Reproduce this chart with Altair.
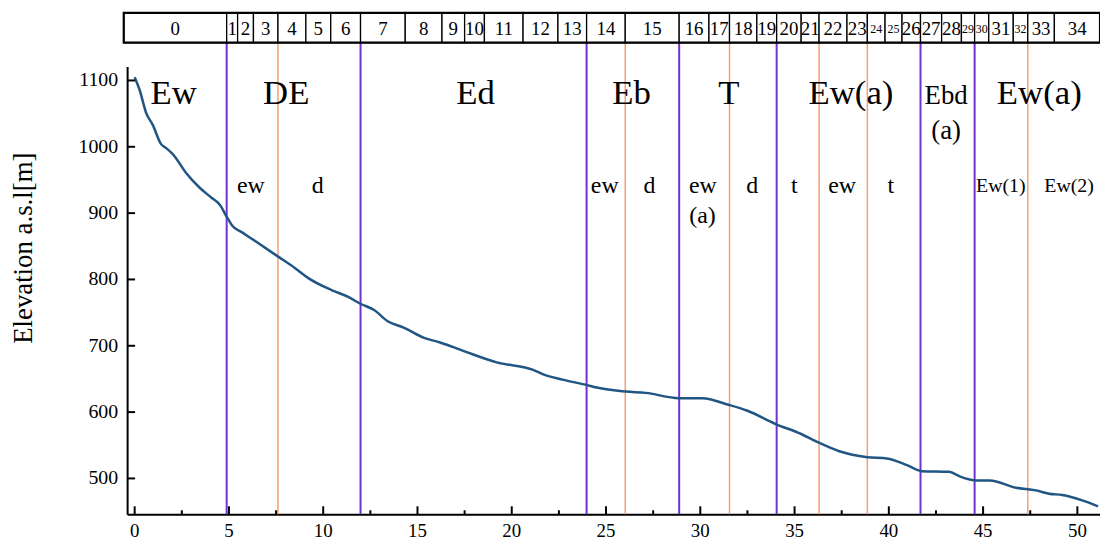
import altair as alt
import pandas as pd

# ---------------- data ----------------
dist_km = [0, 0.26, 0.61, 0.96, 1.4, 1.67, 2.02, 2.72, 3.42, 4.04, 4.56, 4.83, 5.0, 5.18,
           5.7, 6.49, 7.63, 8.51, 9.21, 10.44, 11.3, 12.0, 12.7, 13.42, 14.3, 15.35, 16.2,
           17.46, 19.2, 21.1, 21.67, 22.7, 23.95, 24.5, 26.05, 27.1, 28.86, 30.1, 31.5,
           32.5, 34.0, 35.35, 36.2, 37.37, 38.86, 39.9, 40.96, 41.75, 43.2, 43.77, 44.65,
           45.35, 46.75, 47.8, 48.5, 49.2, 50.26, 51.1]
elev_m = [1105, 1086, 1051, 1033, 1004, 998, 989, 961, 939, 924, 911, 897, 889, 881,
          871, 856, 834, 817, 802, 784, 774, 763, 754, 737, 727, 712, 705,
          692, 675, 664, 657, 649, 641, 637, 631, 629, 621, 621, 611,
          602, 582, 567, 555, 541, 532, 530, 520, 511, 510, 503, 497,
          497, 486, 482, 477, 475, 467, 458]

seg_bounds = [-0.58, 4.88, 5.46, 6.3, 7.6, 9.08, 10.4, 11.98, 14.35, 16.3, 17.5, 18.55,
              20.6, 22.45, 23.97, 26.02, 28.88, 30.46, 31.55, 33.0, 34.05, 35.35, 36.3,
              37.78, 38.86, 39.8, 40.7, 41.68, 42.8, 43.85, 44.55, 45.3, 46.6, 47.37,
              48.78, 51.2]
seg_labels = [str(i) for i in range(35)]
small_seg_labels = ["24", "25", "29", "30", "32"]

purple_x = [4.88, 11.98, 23.97, 28.88, 34.05, 41.68, 44.55]
orange_x = [7.6, 26.02, 31.55, 36.3, 38.86, 47.37]

big_text = ["Ew", "DE", "Ed", "Eb", "T", "Ew(a)", "Ew(a)"]
big_x = [2.07, 8.04, 18.08, 26.35, 31.51, 37.99, 47.98]
ebd_text = ["Ebd"]
ebd_x = [43.04]
ebd_sub_text = ["(a)"]
small_text = ["ew", "d", "ew", "d", "ew", "d", "t", "ew", "t"]
small_x = [6.16, 9.71, 24.93, 27.3, 30.14, 32.75, 34.99, 37.52, 40.1]
sub_text = ["(a)"]
sub_x = [30.12]
ew_num_text = ["Ew(1)", "Ew(2)"]
ew_num_x = [45.94, 49.56]

x_major = [0, 5, 10, 15, 20, 25, 30, 35, 40, 45, 50]
x_minor = [2.5, 7.5, 12.5, 17.5, 22.5, 27.5, 32.5, 37.5, 42.5, 47.5]
y_ticks = [500, 600, 700, 800, 900, 1000, 1100]
y_title = "Elevation a.s.l[m]"

# ---------------- chart ----------------
W, H = 980, 451
FONT = "Liberation Serif"
xs = alt.Scale(domain=[-0.4, 51.2], nice=False, zero=False)
ys = alt.Scale(domain=[446, 1121], nice=False, zero=False)

x_axis = alt.Axis(values=x_major, ticks=False, grid=False, labels=False,
                  domainWidth=2, domainColor="black", title=None)
y_axis = alt.Axis(values=y_ticks, ticks=False, grid=False, labels=False,
                  domainWidth=2, domainColor="black", title=None)


def xenc(field):
    return alt.X(field, scale=xs, axis=x_axis)


def yenc(field):
    return alt.Y(field, scale=ys, axis=y_axis)


profile = pd.DataFrame({"d": dist_km, "e": elev_m})
line = alt.Chart(profile).mark_line(color="#215584", strokeWidth=2.5,
                                    interpolate="monotone").encode(
    x=xenc("d:Q"), y=yenc("e:Q"))

purple = alt.Chart(pd.DataFrame({"x": purple_x})).mark_rule(
    color="#7030d4", strokeWidth=2).encode(x=xenc("x:Q"), y=alt.value(-24), y2=alt.value(H))
orange = alt.Chart(pd.DataFrame({"x": orange_x})).mark_rule(
    color="#f4a070", strokeWidth=1.5).encode(x=xenc("x:Q"), y=alt.value(-24), y2=alt.value(H))

xmaj_df = pd.DataFrame({"x": x_major, "lab": [str(v) for v in x_major]})
xt_major = alt.Chart(xmaj_df).mark_rule(
    color="black", strokeWidth=2).encode(x=xenc("x:Q"), y=alt.value(H), y2=alt.value(H - 8))
xt_minor = alt.Chart(pd.DataFrame({"x": x_minor})).mark_rule(
    color="black", strokeWidth=2).encode(x=xenc("x:Q"), y=alt.value(H), y2=alt.value(H - 4))
x_labels = alt.Chart(xmaj_df).mark_text(
    font=FONT, fontSize=19, baseline="top", align="center", color="black").encode(
    x=xenc("x:Q"), y=alt.value(H + 8), text="lab:N")

ytk_df = pd.DataFrame({"v": y_ticks, "lab": [str(v) for v in y_ticks]})
yt = alt.Chart(ytk_df).mark_rule(color="black", strokeWidth=2).encode(
    y=yenc("v:Q"), x=alt.value(0), x2=alt.value(8))
y_labels = alt.Chart(ytk_df).mark_text(
    font=FONT, fontSize=20, baseline="middle", align="right", color="black").encode(
    y=yenc("v:Q"), x=alt.value(-9), text="lab:N")
y_title_mark = alt.Chart(pd.DataFrame({"t": [y_title]})).mark_text(
    font=FONT, fontSize=27, baseline="middle", align="center", angle=270,
    color="black").encode(x=alt.value(-104), y=alt.value(183), text="t:N")

segs = pd.DataFrame({
    "x0": seg_bounds[:-1],
    "x1": seg_bounds[1:],
    "lab": seg_labels,
})
segs["mid"] = (segs["x0"] + segs["x1"]) / 2
segs["small"] = segs["lab"].isin(small_seg_labels)

strip = alt.Chart(segs).mark_rect(fill="white", stroke="black", strokeWidth=1.3).encode(
    x=xenc("x0:Q"), x2="x1:Q", y=alt.value(-54), y2=alt.value(-24))
outer = alt.Chart(pd.DataFrame({"x0": [seg_bounds[0]], "x1": [seg_bounds[-1]]})).mark_rect(
    fillOpacity=0, stroke="black", strokeWidth=2.2).encode(
    x=xenc("x0:Q"), x2="x1:Q", y=alt.value(-54), y2=alt.value(-24))
strip_lab = alt.Chart(segs[~segs["small"]]).mark_text(
    font=FONT, fontSize=19, baseline="middle", align="center", color="black").encode(
    x=xenc("mid:Q"), y=alt.value(-38), text="lab:N")
strip_lab_small = alt.Chart(segs[segs["small"]]).mark_text(
    font=FONT, fontSize=12, baseline="middle", align="center", color="black").encode(
    x=xenc("mid:Q"), y=alt.value(-38), text="lab:N")


def labels(texts, xs_, size, ypx, baseline="alphabetic"):
    return alt.Chart(pd.DataFrame({"t": texts, "x": xs_})).mark_text(
        font=FONT, fontSize=size, baseline=baseline, align="center", color="black").encode(
        x=xenc("x:Q"), y=alt.value(ypx), text="t:N")


big = labels(big_text, big_x, 35, 38)
ebd = labels(ebd_text, ebd_x, 27, 38)
ebd_sub = labels(ebd_sub_text, ebd_x, 27, 65, "middle")
small = labels(small_text, small_x, 24, 127)
sub = labels(sub_text, sub_x, 24, 151, "middle")
ewn = labels(ew_num_text, ew_num_x, 20, 126)

chart = alt.layer(
    purple, orange, line, xt_major, xt_minor, x_labels, yt, y_labels, y_title_mark,
    strip, outer, strip_lab, strip_lab_small,
    big, ebd, ebd_sub, small, sub, ewn,
).properties(
    width=W, height=H,
    autosize=alt.AutoSizeParams(type="none"),
    padding={"left": 120, "top": 57, "right": 0, "bottom": 28},
    background="white",
).configure_view(stroke=None)

chart.save("out.html", embed_options={"renderer": "svg", "actions": False})
